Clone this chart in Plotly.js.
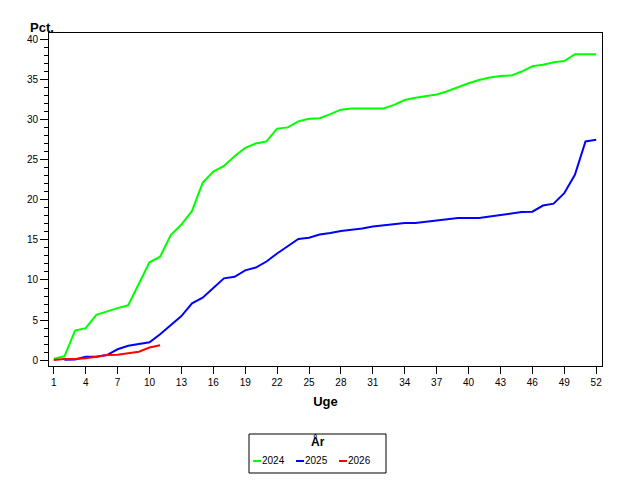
<!DOCTYPE html>
<html>
<head>
<meta charset="utf-8">
<script src="https://cdn.plot.ly/plotly-3.0.1.min.js"></script>
<style>html,body{margin:0;padding:0;background:#fff;}#chart{width:640px;height:480px;}</style>
</head>
<body>
<div id="chart"></div>
<script>
const weeks2024 = [1,2,3,4,5,6,7,8,9,10,11,12,13,14,15,16,17,18,19,20,21,22,23,24,25,26,27,28,29,30,31,32,33,34,35,36,37,38,39,40,41,42,43,44,45,46,47,48,49,50,51,52];
const values2024 = [0.2,0.5,3.7,4.0,5.65,6.1,6.5,6.85,9.5,12.2,12.9,15.6,16.9,18.6,22.1,23.5,24.2,25.4,26.45,27.0,27.25,28.85,29.0,29.75,30.07,30.15,30.65,31.2,31.35,31.35,31.35,31.35,31.8,32.4,32.7,32.9,33.1,33.5,34.0,34.5,34.9,35.2,35.4,35.45,35.95,36.6,36.8,37.1,37.25,38.1,38.1,38.1];
const weeks2025 = [2,3,4,5,6,7,8,9,10,11,12,13,14,15,16,17,18,19,20,21,22,23,24,25,26,27,28,29,30,31,32,33,34,35,36,37,38,39,40,41,42,43,44,45,46,47,48,49,50,51,52];
const values2025 = [0.08,0.1,0.45,0.45,0.65,1.37,1.82,2.03,2.24,3.24,4.4,5.5,7.1,7.8,9.0,10.2,10.4,11.2,11.55,12.3,13.3,14.25,15.1,15.25,15.65,15.85,16.1,16.25,16.4,16.65,16.8,17.0,17.1,17.1,17.27,17.45,17.6,17.73,17.73,17.73,17.9,18.07,18.23,18.45,18.5,19.27,19.5,20.8,23.1,27.25,27.45];
const weeks2026 = [1,2,3,4,5,6,7,8,9,10,11];
const values2026 = [0.05,0.15,0.15,0.25,0.45,0.66,0.7,0.87,1.07,1.6,1.87];
const seriesNames = ['2024','2025','2026'];
const seriesColors = ['#00ff00','#0000ff','#ff0000'];
const xTickVals = [1,4,7,10,13,16,19,22,25,28,31,34,37,40,43,46,49,52];
const yTickVals = [0,5,10,15,20,25,30,35,40];
const legendTitle = 'År';

const FONT = 'Liberation Sans, Arial, sans-serif';
const xs = [weeks2024, weeks2025, weeks2026];
const ys = [values2024, values2025, values2026];
const traces = xs.map((x,i)=>({
  x: x, y: ys[i], type:'scatter', mode:'lines', name: seriesNames[i],
  line:{color: seriesColors[i], width:2}, showlegend:false
}));

// Plot box in pixels (for placing the compact legend below the plot)
const M = {l:49, r:38, t:33, b:114};
const PW = 640 - M.l - M.r, PH = 480 - M.t - M.b;
const px2x = p => (p - M.l) / PW;
const py2y = p => (480 - M.b - p) / PH;

const shapes = [{
  type:'rect', xref:'paper', yref:'paper',
  x0:px2x(249), x1:px2x(386), y0:py2y(473), y1:py2y(434),
  line:{color:'#000', width:1}, fillcolor:'rgba(0,0,0,0)'
}];
const annotations = [
  {text:'Pct.', xref:'paper', yref:'paper', x:px2x(41.5), y:1.0, xanchor:'center', yanchor:'bottom',
   yshift:-4, showarrow:false, font:{family:FONT, size:13, color:'#000', weight:'bold'}},
  {text:legendTitle, xref:'paper', yref:'paper', x:px2x(317.5), y:py2y(441), xanchor:'center', yanchor:'middle',
   showarrow:false, font:{family:FONT, size:12, color:'#000', weight:'bold'}}
];
const itemStart = [253, 296, 339];
seriesNames.forEach((n,i)=>{
  const s = itemStart[i];
  shapes.push({type:'line', xref:'paper', yref:'paper', x0:px2x(s), x1:px2x(s+8), y0:py2y(461), y1:py2y(461),
    line:{color:seriesColors[i], width:2}});
  annotations.push({text:n, xref:'paper', yref:'paper', x:px2x(s+8), y:py2y(461), xanchor:'left', yanchor:'middle',
    showarrow:false, borderpad:0, font:{family:FONT, size:10, color:'#000'}});
});

const tickFont = {family:FONT, size:10, color:'#000'};
const layout = {
  width:640, height:480,
  margin:{l:M.l, r:M.r, t:M.t, b:M.b, pad:0, autoexpand:false},
  paper_bgcolor:'#fff', plot_bgcolor:'#fff',
  showlegend:false,
  xaxis:{
    range:[0.55,52.55], tickvals:xTickVals, ticktext:xTickVals.map(String),
    showgrid:false, zeroline:false, showline:true, linecolor:'#000', linewidth:1, mirror:true,
    ticks:'outside', ticklen:7, tickcolor:'#000', tickwidth:1, tickfont:tickFont,
    title:{text:'Uge', font:{family:FONT, size:13, color:'#000', weight:'bold'}, standoff:9}
  },
  yaxis:{
    range:[-0.71,40.75], tickvals:yTickVals, ticktext:yTickVals.map(String),
    showgrid:false, zeroline:false, showline:true, linecolor:'#000', linewidth:1, mirror:true,
    ticks:'outside', ticklen:8, tickcolor:'#000', tickwidth:1, tickfont:tickFont,
    minor:{dtick:1, ticks:'outside', ticklen:4, tickcolor:'#000', tickwidth:1, showgrid:false}
  },
  shapes: shapes,
  annotations: annotations
};
Plotly.newPlot('chart', traces, layout, {displayModeBar:false, staticPlot:true});
</script>
</body>
</html>
